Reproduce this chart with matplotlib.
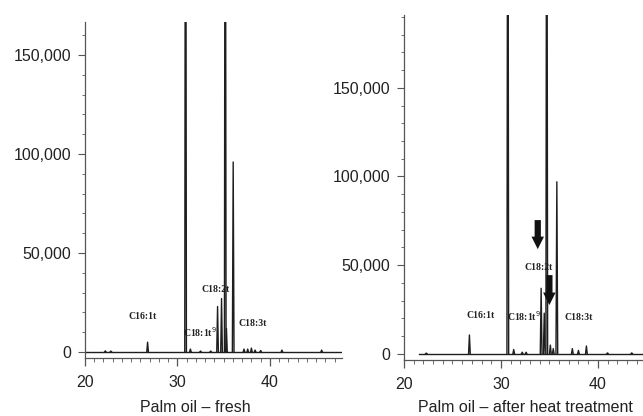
import matplotlib
matplotlib.use("Agg")
import matplotlib.pyplot as plt
from matplotlib.ticker import MultipleLocator, FuncFormatter

# ---------------- data ----------------
# Fresh palm oil: retention time (min), peak height (signal)
fresh_rt = [22.2, 22.8, 26.77, 30.88, 31.4, 32.5, 33.6, 34.34, 34.77, 35.17, 35.3,
            36.03, 37.2, 37.6, 38.0, 38.4, 39.0, 41.3, 45.6]
fresh_h = [600, 500, 5000, 400000, 1500, 500, 500, 23000, 27000, 400000, 12000,
           96000, 1500, 1500, 2000, 1000, 800, 1000, 1000]

# After heat treatment
heat_rt = [22.3, 26.75, 30.71, 31.32, 32.2, 32.6, 34.15, 34.47, 34.73, 35.1, 35.4,
           35.77, 37.37, 38.0, 38.82, 41.0, 43.5]
heat_h = [500, 10700, 400000, 2500, 1000, 1000, 37000, 23000, 400000, 5000, 3000,
          97000, 3000, 2000, 4500, 600, 600]

# Peak labels: text, x, y
fresh_labels = [("C16:1t", 26.27, 18200), ("C18:1t$^9$", 32.43, 10100),
                ("C18:2t", 34.16, 31800), ("C18:3t", 38.16, 14600)]
heat_labels = [("C16:1t", 27.87, 21400), ("C18:1t$^9$", 32.42, 21400),
               ("C18:2t", 33.86, 49000), ("C18:3t", 38.02, 20300)]

# Arrows on heated sample: x, y_start, y_end
heat_arrows = [(33.8, 77000, 57500), (35.0, 46000, 26000)]

y_ticks = [0, 50000, 100000, 150000]
x_ticks = [20, 30, 40]

titles = ["Palm oil \u2013 fresh", "Palm oil \u2013 after heat treatment"]

# ---------------- figure ----------------
plt.rcParams['font.family'] = ['Liberation Sans', 'DejaVu Sans']
fig = plt.figure(figsize=(6.43, 4.16), dpi=100)

W, H = 643, 416
def box(x0, x1, ytop, ybot):
    return [x0 / W, 1 - ybot / H, (x1 - x0) / W, (ybot - ytop) / H]

ax1 = fig.add_axes(box(85, 342, 22, 358))
ax2 = fig.add_axes(box(404, 643, 15, 360))

line_col = "#1e1e1e"
axis_col = "#555555"

def draw(ax, rts, hs, labels, xlim, ylim, title, title_x):
    ax.set_facecolor("none")
    ax.set_xlim(*xlim)
    ax.set_ylim(*ylim)
    ax.plot(list(xlim), [0, 0], color=line_col, lw=1.0, clip_on=True)
    w = 0.09
    for rt, h in zip(rts, hs):
        ax.plot([rt - w, rt, rt + w], [0, h, 0], color=line_col, lw=1.0)
    for txt, x, y in labels:
        ax.text(x, y, txt, ha="center", va="center", fontsize=7,
                fontweight="bold", family=["Liberation Serif", "DejaVu Serif"],
                color="#222222")
    for s in ["top", "right"]:
        ax.spines[s].set_visible(False)
    for s in ["left", "bottom"]:
        ax.spines[s].set_color(axis_col)
        ax.spines[s].set_linewidth(0.9)
    ax.set_yticks(y_ticks)
    ax.yaxis.set_major_formatter(FuncFormatter(lambda v, p: f"{int(v):,}"))
    ax.yaxis.set_minor_locator(MultipleLocator(10000))
    ax.set_xticks(x_ticks)
    ax.xaxis.set_minor_locator(MultipleLocator(1))
    ax.tick_params(axis="y", which="major", length=5, width=0.8, color=axis_col,
                   labelsize=11.5, pad=5, labelcolor="#222222")
    ax.tick_params(axis="y", which="minor", length=2.5, width=0.6, color=axis_col)
    ax.tick_params(axis="x", which="major", length=6, width=0.9, color=axis_col,
                   labelsize=11.5, pad=6, labelcolor="#222222")
    ax.tick_params(axis="x", which="minor", length=3, width=0.6, color=axis_col)
    fig.text(title_x / W, 1 - 408 / H, title, ha="center", va="center",
             fontsize=11.5, color="#222222")

draw(ax1, fresh_rt, fresh_h, fresh_labels, (20, 47.8), (-3000, 166700),
     titles[0], 195)
draw(ax2, heat_rt, heat_h, heat_labels, (21.5, 44.66), (-3400, 191000),
     titles[1], 525)

for x, y0, y1 in heat_arrows:
    ax2.annotate("", xy=(x, y1), xytext=(x, y0),
                 arrowprops=dict(arrowstyle="simple,head_width=0.9,head_length=0.9,tail_width=0.45",
                                 color="#111111", lw=0))

fig.savefig("out.png", dpi=100)
